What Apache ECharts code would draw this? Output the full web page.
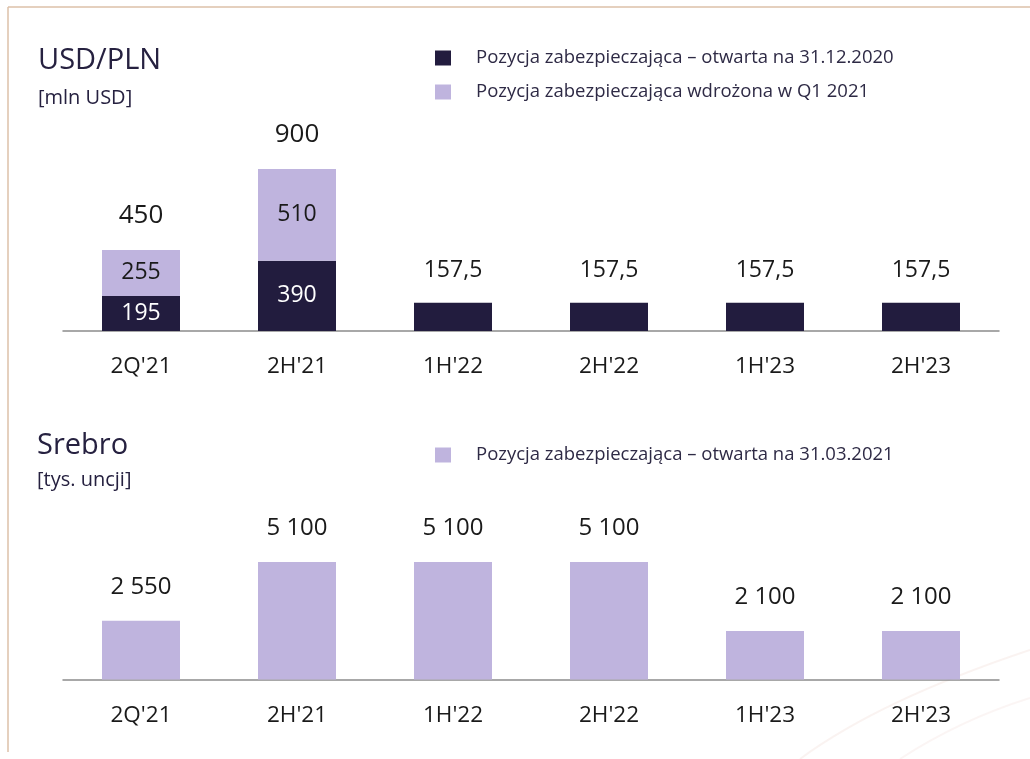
<!DOCTYPE html>
<html>
<head>
<meta charset="utf-8">
<script src="https://cdn.jsdelivr.net/npm/echarts@6/dist/echarts.min.js"></script>
<style>
  html, body { margin: 0; padding: 0; background: #ffffff; }
  #chart { width: 1030px; height: 759px; }
</style>
</head>
<body>
<div id="chart"></div>
<script>
// Half-year hedge schedule
const categories = ["2Q'21", "2H'21", "1H'22", "2H'22", "1H'23", "2H'23"];

// USD/PLN hedges, mln USD
const usdOpen = [195, 390, 157.5, 157.5, 157.5, 157.5];
const usdNew = [255, 510, 0, 0, 0, 0];

// Silver hedges, thousand ounces
const silverOpen = [2550, 5100, 5100, 5100, 2100, 2100];

const nameUsdOpen = 'Pozycja zabezpieczająca – otwarta na 31.12.2020';
const nameUsdNew = 'Pozycja zabezpieczająca wdrożona w Q1 2021';
const nameSilver = 'Pozycja zabezpieczająca – otwarta na 31.03.2021';

const usdTotals = usdOpen.map((v, i) => v + usdNew[i]);

const FONT = "'Open Sans', 'Noto Sans', sans-serif";
const DARK = '#221c3e';
const LIGHT = '#bfb4de';
const INK = '#1a1a1a';
const NAVY = '#262140';

// Polish number format: decimal comma, space as thousands separator
function fmt(v) {
  const parts = String(v).split('.');
  parts[0] = parts[0].replace(/\B(?=(\d{3})+(?!\d))/g, ' ');
  return parts.join(',');
}

const chart = echarts.init(document.getElementById('chart'), null, { renderer: 'canvas' });

const xAxisCommon = {
  type: 'category',
  data: categories,
  axisLine: { show: true, lineStyle: { color: '#8c8c8c', width: 1.5 } },
  axisTick: { show: false },
  axisLabel: { fontFamily: FONT, fontSize: 22.5, lineHeight: 22, color: INK, margin: 25 },
  splitLine: { show: false }
};

const legendText = {
  fontFamily: FONT, fontSize: 18.5, lineHeight: 18, color: '#2e2a45', padding: [2, 0, 0, 20]
};

chart.setOption({
  animation: false,
  backgroundColor: '#ffffff',
  title: [
    {
      text: 'USD/PLN', left: 38, top: 46, padding: 0,
      textStyle: { fontFamily: FONT, fontSize: 29, fontWeight: 'normal', color: NAVY, lineHeight: 30 },
      subtext: '[mln USD]', itemGap: 11,
      subtextStyle: { fontFamily: FONT, fontSize: 20, color: NAVY, lineHeight: 22 }
    },
    {
      text: 'Srebro', left: 37, top: 431, padding: 0,
      textStyle: { fontFamily: FONT, fontSize: 29, fontWeight: 'normal', color: NAVY, lineHeight: 30 },
      subtext: '[tys. uncji]', itemGap: 8,
      subtextStyle: { fontFamily: FONT, fontSize: 20, color: NAVY, lineHeight: 22 }
    }
  ],
  legend: [
    {
      data: [nameUsdOpen, nameUsdNew],
      orient: 'vertical', left: 435, top: 48, padding: 0,
      icon: 'rect', itemWidth: 16, itemHeight: 15, itemGap: 14,
      selectedMode: false,
      textStyle: legendText
    },
    {
      data: [nameSilver],
      orient: 'vertical', left: 435, top: 445, padding: 0,
      icon: 'rect', itemWidth: 16, itemHeight: 15,
      selectedMode: false,
      textStyle: legendText
    }
  ],
  grid: [
    { left: 63, right: 31, top: 169, height: 162 },
    { left: 63, right: 31, top: 562, height: 117.5 }
  ],
  xAxis: [
    Object.assign({ gridIndex: 0 }, xAxisCommon),
    Object.assign({ gridIndex: 1 }, xAxisCommon)
  ],
  yAxis: [
    { gridIndex: 0, type: 'value', min: 0, max: 900, show: false },
    { gridIndex: 1, type: 'value', min: 0, max: 5100, show: false }
  ],
  series: [
    {
      name: nameUsdOpen, type: 'bar', xAxisIndex: 0, yAxisIndex: 0, stack: 'usd',
      data: usdOpen, barWidth: 78,
      itemStyle: { color: DARK },
      label: {
        show: true, position: 'inside', fontFamily: FONT, fontSize: 23, color: '#ffffff',
        formatter: p => (usdNew[p.dataIndex] > 0 ? fmt(p.value) : '')
      }
    },
    {
      name: nameUsdNew, type: 'bar', xAxisIndex: 0, yAxisIndex: 0, stack: 'usd',
      data: usdNew, barWidth: 78,
      itemStyle: { color: LIGHT },
      label: {
        show: true, position: 'inside', fontFamily: FONT, fontSize: 23, color: INK,
        formatter: p => (p.value > 0 ? fmt(p.value) : '')
      }
    },
    {
      // zero-height cap that carries the stack total label
      name: 'Razem', type: 'bar', xAxisIndex: 0, yAxisIndex: 0, stack: 'usd',
      data: usdTotals.map(() => 0), barWidth: 78, silent: true,
      itemStyle: { color: 'rgba(0,0,0,0)' },
      label: {
        show: true, position: 'top', distance: 21, color: INK,
        formatter: p => {
          const style = usdNew[p.dataIndex] > 0 ? 'big' : 'small';
          return '{' + style + '|' + fmt(usdTotals[p.dataIndex]) + '}';
        },
        rich: {
          big: { fontFamily: FONT, fontSize: 26, lineHeight: 26, color: INK },
          small: { fontFamily: FONT, fontSize: 23, lineHeight: 23, color: INK }
        }
      }
    },
    {
      name: nameSilver, type: 'bar', xAxisIndex: 1, yAxisIndex: 1,
      data: silverOpen, barWidth: 78,
      itemStyle: { color: LIGHT },
      label: {
        show: true, position: 'top', distance: 21.5,
        fontFamily: FONT, fontSize: 24, lineHeight: 24, color: INK,
        formatter: p => fmt(p.value)
      }
    }
  ],
  graphic: [
    // frame
    { type: 'line', silent: true, shape: { x1: 8, y1: 7, x2: 1030, y2: 7 },
      style: { stroke: '#dcc1a9', lineWidth: 1.5 } },
    { type: 'line', silent: true, shape: { x1: 8, y1: 7, x2: 8, y2: 752 },
      style: { stroke: '#dcc1a9', lineWidth: 1.5 } },
    // faint decorative swoosh, lower right
    { type: 'bezierCurve', silent: true, z: -1,
      shape: { x1: 800, y1: 759, cpx1: 880, cpy1: 700, x2: 1030, y2: 650 },
      style: { stroke: 'rgba(225,180,170,0.16)', lineWidth: 2, fill: null } },
    { type: 'bezierCurve', silent: true, z: -1,
      shape: { x1: 900, y1: 759, cpx1: 960, cpy1: 720, x2: 1030, y2: 698 },
      style: { stroke: 'rgba(225,180,170,0.13)', lineWidth: 2, fill: null } }
  ]
});
</script>
</body>
</html>
